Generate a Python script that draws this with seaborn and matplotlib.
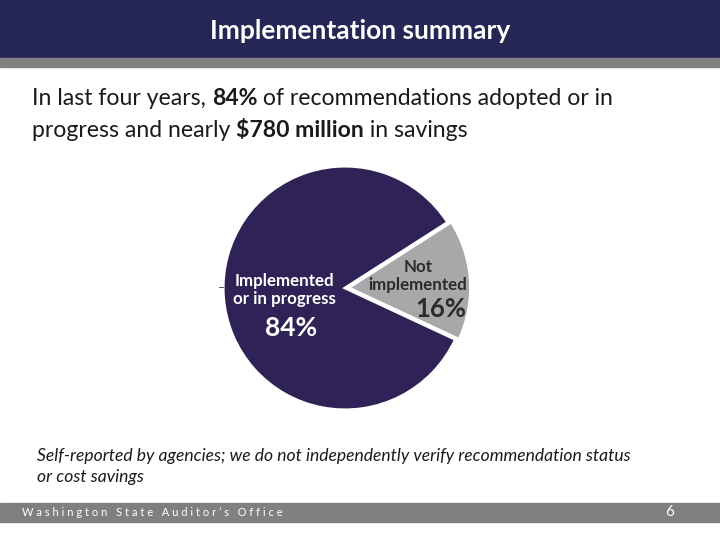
import matplotlib
matplotlib.use('Agg')
import matplotlib.pyplot as plt
import seaborn as sns
from matplotlib.patches import Rectangle

# data
labels = ['Not\nimplemented', 'Implemented\nor in progress']
shares = [16, 84]
colors = ['#a7a8aa', '#2e2257']
label_colors = ['#2b2b2b', 'white']

title = 'Implementation summary'
line1 = [('In last four years, ', 'normal'), ('84%', 'bold'), (' of recommendations adopted or in', 'normal')]
line2 = [('progress and nearly ', 'normal'), ('$780 million', 'bold'), (' in savings', 'normal')]
note1 = 'Self-reported by agencies; we do not independently verify recommendation status'
note2 = 'or cost savings'
footer = "Washington State Auditor’s Office"
page = '6'

sns.set_theme(style='white')
plt.rcParams['font.family'] = ['Lato', 'DejaVu Sans']

W, H = 720, 540
fig = plt.figure(figsize=(7.2, 5.4), dpi=100)
fig.patch.set_facecolor('white')

def fx(px):
    return px / W

def fy(py):
    return 1 - py / H

# header and footer bands
fig.add_artist(Rectangle((0, fy(58)), 1, 58 / H, transform=fig.transFigure, color='#252556', zorder=0))
fig.add_artist(Rectangle((0, fy(67)), 1, 9 / H, transform=fig.transFigure, color='#808080', zorder=0))
fig.add_artist(Rectangle((0, fy(522)), 1, 19 / H, transform=fig.transFigure, color='#808080', zorder=0))

fig.text(0.5, fy(31), title, color='white', fontsize=19, fontweight='bold', ha='center', va='center')

renderer = fig.canvas.get_renderer()

def chain(x, y, parts, size):
    for s, weight in parts:
        t = fig.text(x, y, s, fontsize=size, fontweight=weight, color='#1a1a1a', va='baseline')
        bb = t.get_window_extent(renderer)
        x += bb.width / fig.bbox.width

chain(fx(32), fy(105), line1, 16.6)
chain(fx(32), fy(137), line2, 16.6)

fig.text(fx(37), fy(461), note1, fontsize=12.6, style='italic', color='#1a1a1a', va='baseline')
fig.text(fx(37), fy(482), note2, fontsize=12.6, style='italic', color='#1a1a1a', va='baseline')

fig.text(fx(22), fy(512), ' '.join(footer), fontsize=8.0, color='white', va='center')
fig.text(fx(670), fy(512), page, fontsize=11, color='white', va='center', ha='center')

# pie
ax = fig.add_axes([fx(211), fy(422), 268 / W, 268 / H])
wedges, _ = ax.pie(shares, colors=colors, startangle=-25, counterclock=True,
                   explode=[0.03, 0], wedgeprops=dict(edgecolor='white', linewidth=2))
ax.set_xlim(-1.1, 1.1)
ax.set_ylim(-1.1, 1.1)
ax.set_aspect('equal')
ax.axis('off')

# labels inside slices
ax.text(0.60, 0.10, labels[0], color=label_colors[0], fontsize=12.2, fontweight='bold',
        ha='center', va='center', linespacing=1.15)
ax.text(0.79, -0.17, f'{shares[0]}%', color=label_colors[0], fontsize=18.5, fontweight='bold',
        ha='center', va='center')
ax.text(-0.50, -0.02, labels[1], color=label_colors[1], fontsize=12.2, fontweight='bold',
        ha='center', va='center', linespacing=1.15)
ax.text(-0.44, -0.33, f'{shares[1]}%', color=label_colors[1], fontsize=19, fontweight='bold',
        ha='center', va='center')
ax.text(-1.01, 0.0, '–', color='#555555', fontsize=9, ha='center', va='center')

fig.savefig('out.png', dpi=100)
